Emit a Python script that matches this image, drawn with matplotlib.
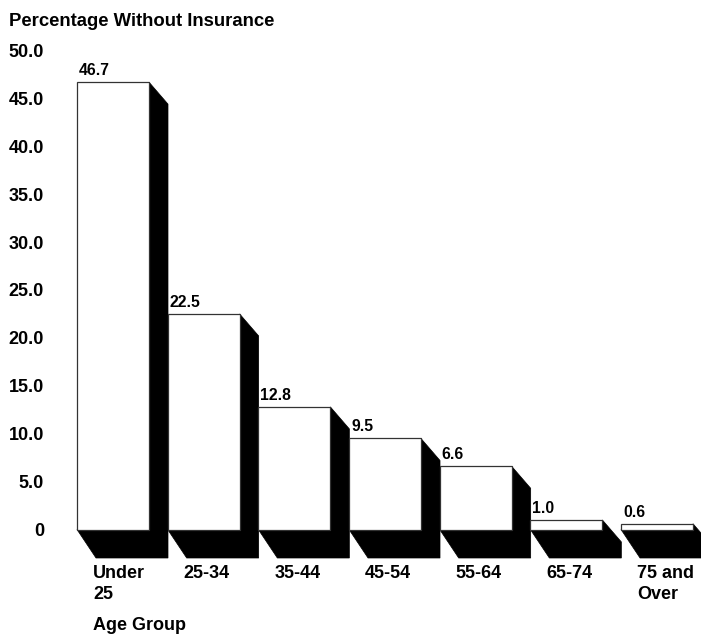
import matplotlib
matplotlib.use("Agg")
import matplotlib.pyplot as plt
from matplotlib.patches import Polygon, Rectangle
from matplotlib.transforms import ScaledTranslation

# ---- data ----
categories = ["Under\n25", "25-34", "35-44", "45-54", "55-64", "65-74", "75 and\nOver"]
values = [46.7, 22.5, 12.8, 9.5, 6.6, 1.0, 0.6]
value_labels = ["46.7", "22.5", "12.8", "9.5", "6.6", "1.0", "0.6"]
y_ticks = [0, 5, 10, 15, 20, 25, 30, 35, 40, 45, 50]
y_tick_labels = ["0", "5.0", "10.0", "15.0", "20.0", "25.0", "30.0", "35.0", "40.0", "45.0", "50.0"]
title = "Percentage Without Insurance"
x_title = "Age Group"

plt.rcParams['font.family'] = ['Liberation Sans', 'DejaVu Sans']

W, H, DPI = 701, 635, 100
fig = plt.figure(figsize=(W / DPI, H / DPI), dpi=DPI)

# pixel geometry (style)
ppu = 9.58          # px per value unit
step_px = 90.67     # px per category
front_w = 72 / step_px
y0_px = 529.5
ax_left_px, ax_right_px = 77, 701
ax_top_px, ax_bot_px = 40, 562

ylim_top = (y0_px - ax_top_px) / ppu
ylim_bot = -(ax_bot_px - y0_px) / ppu
xlim_left = -front_w / 2
xlim_right = xlim_left + (ax_right_px - ax_left_px) / step_px

ax = fig.add_axes([ax_left_px / W, (H - ax_bot_px) / H,
                   (ax_right_px - ax_left_px) / W, (ax_bot_px - ax_top_px) / H])
ax.set_xlim(xlim_left, xlim_right)
ax.set_ylim(ylim_bot, ylim_top)
for s in ax.spines.values():
    s.set_visible(False)

# depth offsets (style)
dx = 19 / step_px
dy_top = 22 / ppu
dy_base = 28.5 / ppu

for i, v in enumerate(values):
    xl = i - front_w / 2
    xr = i + front_w / 2
    side_top = max(v - dy_top, -dy_base)
    shadow = Polygon([(xl, 0), (xl + dx, -dy_base), (xr + dx, -dy_base),
                      (xr + dx, side_top), (xr, v), (xr, 0)],
                     closed=True, facecolor='black', edgecolor='black',
                     linewidth=0.5, clip_on=False, zorder=2)
    ax.add_patch(shadow)
    front = Rectangle((xl, 0), front_w, v, facecolor='white',
                      edgecolor='#333333', linewidth=0.9, zorder=3, clip_on=False)
    ax.add_patch(front)
    ax.annotate(value_labels[i], xy=(xl, v), xytext=(1.5, 3), textcoords='offset points',
                ha='left', va='bottom', fontsize=11.3, fontweight='bold', zorder=4)

ax.set_yticks(y_ticks)
ax.set_yticklabels(y_tick_labels, fontsize=13, fontweight='bold')
ax.tick_params(axis='y', length=0, pad=(ax_left_px - 44) * 72 / DPI)

ax.set_xticks(range(len(categories)))
ax.set_xticklabels(categories, fontsize=13, fontweight='bold', ha='left',
                   va='top', linespacing=1.35)
ax.tick_params(axis='x', length=0, pad=2)
off = ScaledTranslation(-20 / DPI, 0, fig.dpi_scale_trans)
for lab in ax.get_xticklabels():
    lab.set_transform(lab.get_transform() + off)

fig.text(9 / W, 1 - 26 / H, title, fontsize=13.3, fontweight='bold',
         ha='left', va='baseline')
fig.text(93 / W, 1 - 630 / H, x_title, fontsize=13, fontweight='bold',
         ha='left', va='baseline')

fig.savefig("out.png", dpi=DPI, facecolor='white')
